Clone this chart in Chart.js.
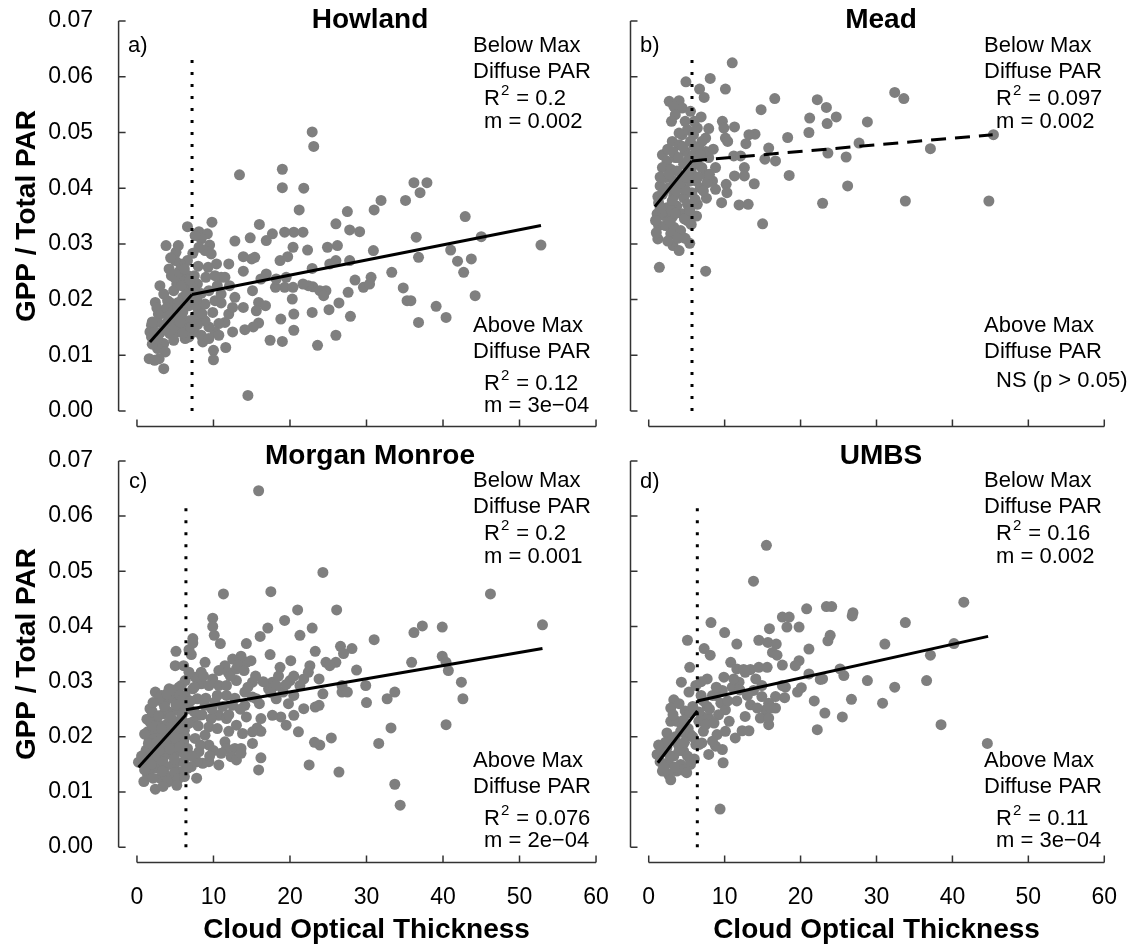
<!DOCTYPE html>
<html>
<head>
<meta charset="utf-8">
<script src="https://cdn.jsdelivr.net/npm/chart.js@4.4.1/dist/chart.umd.min.js"></script>
<style>
  html, body { margin: 0; padding: 0; background: #fff; }
  #fig { position: relative; width: 1128px; height: 949px; }
  #fig canvas { position: absolute; }
</style>
</head>
<body>
<div id="fig">
  <canvas id="pa" width="625" height="440" style="left:0;top:0"></canvas>
  <canvas id="pb" width="503" height="440" style="left:625px;top:0"></canvas>
  <canvas id="pc" width="625" height="509" style="left:0;top:440px"></canvas>
  <canvas id="pd" width="503" height="509" style="left:625px;top:440px"></canvas>
</div>
<script>
// axis ticks / limits (R style 4% extension)
const cotTicks = [0, 10, 20, 30, 40, 50, 60];
const gppTicks = [0, 0.01, 0.02, 0.03, 0.04, 0.05, 0.06, 0.07];
const xLim = [-2.4, 62.4];
const yLim = [-0.0028, 0.0728];
const breakTop = 0.063;

// Howland: [cloud optical thickness, GPP/total PAR]
const howlandPts = [
  [22.9,0.0501],[23.1,0.0475],[13.4,0.0424],[19.0,0.0434],[19.0,0.0401],[21.8,0.0400],[21.2,0.0361],[36.2,0.0410],
  [37.9,0.0410],[37.0,0.0392],[35.1,0.0378],[31.9,0.0378],[31.0,0.0361],[27.5,0.0358],[26.0,0.0336],[16.0,0.0335],
  [9.8,0.0339],[6.6,0.0331],[8.1,0.0322],[42.9,0.0349],[45.0,0.0313],[36.5,0.0312],[52.8,0.0298],[41.0,0.0289],
  [41.9,0.0269],[43.7,0.0273],[42.7,0.0249],[44.2,0.0207],[36.8,0.0276],[33.3,0.0249],[30.9,0.0288],[29.1,0.0322],
  [27.8,0.0325],[26.2,0.0297],[24.9,0.0294],[26.0,0.0270],[25.2,0.0264],[27.8,0.0270],[28.5,0.0235],[27.6,0.0213],
  [30.6,0.0240],[29.6,0.0222],[30.4,0.0228],[34.8,0.0221],[35.3,0.0198],[35.8,0.0198],[36.8,0.0159],[39.1,0.0188],
  [40.4,0.0168],[27.9,0.0170],[26.4,0.0194],[25.1,0.0182],[26.0,0.0136],[23.6,0.0118],[22.9,0.0177],[22.9,0.0256],
  [23.0,0.0223],[22.4,0.0225],[23.9,0.0216],[24.7,0.0216],[24.4,0.0207],[21.7,0.0228],[22.3,0.0289],[21.7,0.0321],
  [20.5,0.0321],[20.4,0.0294],[19.7,0.0277],[19.3,0.0321],[17.7,0.0318],[16.9,0.0306],[19.3,0.0222],[20.4,0.0222],
  [20.3,0.0201],[20.5,0.0174],[20.5,0.0145],[18.8,0.0165],[19.0,0.0125],[17.4,0.0127],[18.1,0.0222],[16.9,0.0246],
  [16.2,0.0237],[15.4,0.0276],[15.0,0.0273],[13.9,0.0277],[14.8,0.0311],[12.8,0.0305],[12.0,0.0264],[13.9,0.0251],
  [15.1,0.0216],[15.9,0.0195],[16.8,0.0189],[15.6,0.0180],[15.9,0.0158],[15.2,0.0151],[14.1,0.0146],[12.5,0.0142],
  [11.6,0.0114],[10.0,0.0109],[10.0,0.0092],[14.5,0.0028],[8.6,0.0124],[13.9,0.0186],[12.8,0.0204],[12.1,0.0225],
  [11.0,0.0240],[10.2,0.0243],[10.4,0.0264],[9.5,0.0298],[8.9,0.0288],[9.3,0.0258],[12.0,0.0174],[11.5,0.0159],
  [10.7,0.0157],[10.2,0.0142],[9.4,0.0151],[8.9,0.0162],[8.1,0.0162],[7.5,0.0142],[8.4,0.0136],[9.4,0.0130],
  [10.7,0.0136],[7.9,0.0186],[8.9,0.0192],[10.2,0.0198],[11.0,0.0210],[7.9,0.0228],[7.5,0.0243],[7.3,0.0283],
  [6.6,0.0270],[5.1,0.0285],[5.4,0.0297],[3.8,0.0297],[4.5,0.0243],[5.7,0.0264],[5.2,0.0228],[4.8,0.0216],
  [6.3,0.0222],[6.0,0.0204],[5.4,0.0195],[4.3,0.0195],[4.0,0.0198],[2.4,0.0195],[2.8,0.0174],[2.7,0.0159],
  [3.8,0.0157],[4.8,0.0162],[5.8,0.0171],[6.8,0.0162],[6.3,0.0148],[5.3,0.0142],[4.3,0.0139],[6.3,0.0130],
  [4.8,0.0127],[3.5,0.0121],[2.7,0.0112],[3.7,0.0106],[2.9,0.0094],[1.6,0.0094],[2.3,0.0091],[3.5,0.0076],
  [1.7,0.0142],[1.9,0.0133],[1.9,0.0154],[2.3,0.0142],[6.8,0.0133],[6.8,0.0189],[7.2,0.0207],[7.4,0.0219],
  [6.7,0.0243],[5.8,0.0240],[5.0,0.0270],[9.2,0.0318],[8.4,0.0309],[8.1,0.0294],[9.7,0.0282],[11.5,0.0240],
  [11.0,0.0194],[8.4,0.0211],[9.4,0.0216],[9.9,0.0177],[12.5,0.0186],[18.7,0.0270],[18.2,0.0237],[19.5,0.0240],
  [2.0,0.0160],[2.6,0.0185],[3.2,0.0175],[3.9,0.0185],[4.6,0.0178],[5.3,0.0185],[6.0,0.0178],[6.6,0.0195],
  [3.0,0.0140],[3.6,0.0148],[4.1,0.0170],[5.0,0.0150],[5.6,0.0160],[6.0,0.0140],[7.0,0.0150],[7.6,0.0170],
  [7.8,0.0200],[6.5,0.0210],[5.8,0.0225],[4.9,0.0240],[4.2,0.0255],[5.5,0.0250],[6.2,0.0255],[6.9,0.0235],
  [4.4,0.0275],[3.5,0.0210],[3.0,0.0225],[2.0,0.0120],[2.7,0.0130],[7.9,0.0155],[8.5,0.0175],[8.0,0.0260],
  [7.6,0.0315],[10.5,0.0225],[9.0,0.0240]
];
const howlandBelowX = [1.7, 7.2], howlandBelowY = [0.0124, 0.0209];
const howlandAboveX = [7.2, 52.8], howlandAboveY = [0.0209, 0.0333];
const howlandBreak = 7.2;

const meadPts = [
  [11.0,0.0625],[8.1,0.0597],[4.9,0.0591],[6.7,0.0578],[7.3,0.0563],[10.1,0.0578],[2.7,0.0556],[4.0,0.0557],
  [3.3,0.0547],[4.4,0.0544],[3.5,0.0532],[5.5,0.0538],[6.9,0.0528],[16.6,0.0561],[14.8,0.0541],[22.2,0.0559],
  [23.4,0.0545],[32.4,0.0572],[33.6,0.0561],[21.2,0.0526],[23.5,0.0516],[24.7,0.0528],[28.8,0.0519],[21.1,0.0500],
  [18.3,0.0491],[14.0,0.0497],[13.2,0.0496],[12.8,0.0480],[9.7,0.0520],[9.9,0.0508],[11.3,0.0510],[7.9,0.0507],
  [7.5,0.0490],[10.1,0.0490],[10.4,0.0484],[15.8,0.0472],[23.6,0.0463],[26.0,0.0456],[27.7,0.0481],[37.1,0.0471],
  [45.4,0.0496],[15.3,0.0452],[16.7,0.0449],[11.2,0.0458],[12.1,0.0458],[11.3,0.0422],[12.6,0.0437],[12.6,0.0422],
  [13.9,0.0408],[18.5,0.0423],[26.2,0.0404],[22.9,0.0373],[33.8,0.0377],[44.8,0.0377],[11.9,0.0370],[13.1,0.0371],
  [9.6,0.0374],[15.0,0.0336],[7.5,0.0251],[1.4,0.0258],[1.2,0.0309],[3.2,0.0297],[4.0,0.0288],[4.0,0.0320],
  [5.4,0.0301],[5.1,0.0342],[1.3,0.0333],[1.1,0.0354],[7.5,0.0425],[8.8,0.0437],[8.4,0.0413],[10.2,0.0407],
  [10.3,0.0392],[8.8,0.0398],[7.6,0.0382],[6.4,0.0371],[7.9,0.0455],[7.5,0.0466],[6.6,0.0472],[6.4,0.0443],
  [1.8,0.0460],[2.4,0.0449],[1.8,0.0437],[2.9,0.0434],[2.2,0.0419],[3.3,0.0413],[2.6,0.0401],[4.0,0.0401],
  [1.8,0.0389],[3.3,0.0386],[4.6,0.0383],[1.3,0.0374],[2.4,0.0365],[3.7,0.0368],[5.1,0.0371],[2.0,0.0351],
  [3.1,0.0348],[4.4,0.0354],[0.9,0.0342],[2.2,0.0333],[3.3,0.0330],[5.3,0.0359],[3.1,0.0484],[4.4,0.0496],
  [5.1,0.0505],[4.0,0.0478],[4.8,0.0466],[5.5,0.0484],[5.9,0.0496],[3.5,0.0455],[4.6,0.0443],[5.3,0.0431],
  [3.7,0.0431],[4.4,0.0419],[5.5,0.0413],[4.8,0.0398],[5.7,0.0392],[6.2,0.0413],[7.0,0.0437],[6.8,0.0401],
  [5.9,0.0460],[6.4,0.0508],[7.0,0.0484],[3.1,0.0377],[1.5,0.0404],[4.0,0.0499],[1.8,0.0357],[4.2,0.0324],
  [2.9,0.0318],[1.5,0.0365],[7.7,0.0410],[8.0,0.0425],
  [1.5,0.0420],[2.0,0.0395],[2.7,0.0425],[3.0,0.0360],[3.6,0.0395],[4.2,0.0410],[4.9,0.0420],[5.6,0.0430],
  [6.1,0.0445],[2.5,0.0470],[3.2,0.0465],[3.9,0.0455],[4.5,0.0475],[5.2,0.0450],[6.0,0.0475],[1.2,0.0385],
  [2.8,0.0340],[3.5,0.0355],[4.7,0.0345],[5.6,0.0335],[6.1,0.0380],[1.0,0.0320],[2.5,0.0305],[3.8,0.0310],
  [4.8,0.0310],[6.3,0.0350],[6.0,0.0520],[4.8,0.0520],[3.0,0.0520],[5.4,0.0360],[6.8,0.0460],[7.2,0.0395],
  [6.5,0.0420],[8.5,0.0470]
];
const meadBelowX = [0.8, 5.7], meadBelowY = [0.0367, 0.0449];
const meadAboveX = [5.7, 45.3], meadAboveY = [0.0449, 0.0496];
const meadBreak = 5.7;

const morganPts = [
  [15.9,0.0646],[24.3,0.0498],[11.3,0.0459],[17.5,0.0463],[46.2,0.0459],[21.0,0.0430],[26.1,0.0430],[19.3,0.0411],
  [53.0,0.0403],[37.3,0.0401],[36.2,0.0389],[39.9,0.0399],[22.9,0.0397],[17.1,0.0397],[31.0,0.0376],[21.3,0.0384],
  [16.1,0.0382],[14.3,0.0369],[10.9,0.0369],[9.9,0.0415],[9.9,0.0400],[10.1,0.0384],[7.3,0.0378],[7.1,0.0349],
  [5.1,0.0355],[26.6,0.0364],[28.1,0.0360],[27.0,0.0351],[23.3,0.0355],[17.4,0.0349],[35.9,0.0335],[39.9,0.0346],
  [40.4,0.0335],[40.7,0.0320],[28.7,0.0321],[26.0,0.0335],[24.7,0.0335],[22.6,0.0329],[20.1,0.0338],[18.7,0.0326],
  [42.4,0.0299],[42.6,0.0269],[29.9,0.0293],[30.0,0.0262],[33.7,0.0281],[32.7,0.0269],[33.2,0.0216],[31.6,0.0188],
  [40.4,0.0222],[33.7,0.0114],[34.4,0.0076],[26.4,0.0136],[22.5,0.0149],[25.4,0.0198],[23.9,0.0185],[23.2,0.0190],
  [21.1,0.0209],[21.8,0.0251],[23.3,0.0254],[23.8,0.0257],[24.3,0.0278],[26.8,0.0281],[27.5,0.0281],[26.8,0.0293],
  [23.8,0.0305],[21.8,0.0305],[21.3,0.0293],[20.5,0.0275],[19.1,0.0281],[18.2,0.0269],[17.7,0.0299],[19.8,0.0260],
  [18.8,0.0236],[19.5,0.0221],[16.2,0.0233],[15.7,0.0216],[16.2,0.0210],[15.1,0.0209],[15.1,0.0188],[16.2,0.0162],
  [15.9,0.0140],[14.3,0.0236],[14.1,0.0257],[15.1,0.0299],[14.3,0.0335],[14.9,0.0338],[13.6,0.0346],[12.5,0.0341],
  [11.5,0.0329],[10.7,0.0320],[11.9,0.0317],[13.0,0.0323],[8.9,0.0335],[9.9,0.0305],[10.7,0.0293],[11.7,0.0293],
  [13.0,0.0302],[11.7,0.0275],[12.5,0.0257],[10.2,0.0263],[10.7,0.0239],[11.7,0.0233],[13.0,0.0221],[9.7,0.0233],
  [9.4,0.0218],[10.5,0.0215],[8.9,0.0203],[7.6,0.0197],[9.4,0.0185],[11.5,0.0191],[11.7,0.0179],[12.8,0.0179],
  [13.6,0.0179],[12.3,0.0164],[13.0,0.0158],[13.6,0.0170],[10.7,0.0149],[9.4,0.0155],[8.6,0.0152],[7.9,0.0155],
  [7.1,0.0146],[7.8,0.0125],[8.1,0.0173],[7.3,0.0227],[8.1,0.0239],[8.9,0.0257],[7.9,0.0269],[7.3,0.0287],
  [8.4,0.0296],[7.6,0.0308],[6.8,0.0317],[5.8,0.0293],[6.3,0.0275],[5.0,0.0329],[6.1,0.0329],[0.2,0.0154],
  [0.9,0.0119],[2.4,0.0105],[4.5,0.0122],[1.9,0.0248],[3.0,0.0266],[3.7,0.0263],[4.8,0.0269],[5.5,0.0266],
  [1.7,0.0227],[2.4,0.0233],[3.5,0.0242],[4.2,0.0245],[5.3,0.0248],[6.1,0.0251],[1.4,0.0209],[2.2,0.0212],
  [3.0,0.0221],[4.0,0.0224],[5.0,0.0227],[5.8,0.0233],[1.6,0.0194],[2.4,0.0197],[3.3,0.0203],[4.2,0.0206],
  [5.3,0.0209],[6.2,0.0212],[1.2,0.0176],[2.2,0.0179],[3.1,0.0182],[4.1,0.0185],[5.2,0.0188],[6.1,0.0191],
  [0.9,0.0158],[1.8,0.0161],[2.7,0.0164],[3.7,0.0167],[4.8,0.0170],[5.8,0.0173],[1.7,0.0140],[2.7,0.0143],
  [3.7,0.0146],[5.0,0.0152],[6.1,0.0155],[3.0,0.0125],[3.7,0.0131],[5.8,0.0137],[6.6,0.0143],[2.4,0.0281],
  [4.2,0.0287],[3.2,0.0275],[6.3,0.0302],[5.5,0.0290],[1.7,0.0251],[2.4,0.0149],[4.7,0.0149],[6.6,0.0179],
  [6.7,0.0224],[6.8,0.0251],[6.8,0.0358],[7.3,0.0370],[8.4,0.0317],[9.4,0.0293],[14.1,0.0281],[15.6,0.0269],
  [17.2,0.0287],[18.2,0.0293],[20.0,0.0302],[22.4,0.0317],[25.2,0.0329],[17.7,0.0239],[20.5,0.0239],[13.8,0.0206],
  [15.1,0.0272],
  [1.0,0.0205],[1.5,0.0188],[2.0,0.0220],[2.6,0.0190],[3.2,0.0215],[3.8,0.0196],[4.5,0.0219],[5.0,0.0198],
  [5.7,0.0220],[6.3,0.0200],[1.3,0.0232],[2.0,0.0245],[2.8,0.0238],[3.6,0.0255],[4.4,0.0236],[5.1,0.0258],
  [5.9,0.0240],[6.5,0.0262],[1.1,0.0170],[1.9,0.0150],[2.9,0.0175],[3.4,0.0155],[4.3,0.0178],[4.9,0.0160],
  [5.6,0.0182],[6.4,0.0165],[1.4,0.0130],[2.1,0.0125],[3.3,0.0138],[4.0,0.0118],[4.9,0.0135],[5.4,0.0124],
  [6.2,0.0128],[2.9,0.0270],[3.9,0.0278],[4.7,0.0285],[5.6,0.0276],[6.0,0.0268],[2.1,0.0262],[1.0,0.0140],
  [0.6,0.0165],[3.4,0.0110],[5.2,0.0112],[7.0,0.0265],[7.5,0.0245],[8.0,0.0220],[8.5,0.0240],[9.0,0.0270],
  [9.8,0.0250],[10.5,0.0275],[11.2,0.0255],[12.0,0.0240],[12.8,0.0270],[13.5,0.0250],[14.5,0.0290],[15.5,0.0310],
  [16.5,0.0300],[17.5,0.0280],[18.5,0.0310],[19.5,0.0295],[20.5,0.0310],[16.0,0.0260],[12.0,0.0210],[10.0,0.0175],
  [8.3,0.0185],[9.5,0.0165],[11.0,0.0170],[7.2,0.0165],[7.5,0.0290],[8.7,0.0310],[12.2,0.0310],[13.2,0.0330],
  [14.0,0.0320]
];
const morganBelowX = [0.2, 6.4], morganBelowY = [0.0145, 0.0240];
const morganAboveX = [6.4, 53.0], morganAboveY = [0.0249, 0.0360];
const morganBreak = 6.4;

const umbsPts = [
  [15.5,0.0547],[13.8,0.0482],[41.5,0.0444],[20.8,0.0432],[23.4,0.0436],[24.1,0.0436],[26.9,0.0425],[26.8,0.0419],
  [17.6,0.0417],[18.5,0.0417],[18.2,0.0399],[19.8,0.0399],[15.9,0.0396],[8.2,0.0407],[10.0,0.0389],[33.8,0.0407],
  [23.9,0.0384],[23.6,0.0374],[5.1,0.0375],[14.5,0.0375],[15.7,0.0371],[16.8,0.0368],[11.6,0.0368],[31.1,0.0368],
  [40.2,0.0369],[21.1,0.0359],[7.3,0.0360],[8.1,0.0348],[16.3,0.0353],[16.9,0.0348],[37.1,0.0348],[19.8,0.0338],
  [10.8,0.0335],[17.6,0.0330],[5.4,0.0326],[11.6,0.0323],[12.5,0.0322],[13.4,0.0322],[14.5,0.0326],[15.6,0.0326],
  [25.2,0.0323],[25.7,0.0311],[21.1,0.0314],[22.6,0.0304],[28.8,0.0302],[36.6,0.0302],[32.4,0.0290],[30.8,0.0261],
  [26.7,0.0268],[21.8,0.0265],[23.2,0.0243],[25.5,0.0236],[22.2,0.0213],[38.5,0.0222],[44.6,0.0188],[9.4,0.0069],
  [19.6,0.0281],[20.1,0.0289],[18.0,0.0290],[17.9,0.0271],[16.7,0.0273],[15.8,0.0261],[16.7,0.0252],[15.4,0.0249],
  [14.7,0.0234],[15.8,0.0222],[15.8,0.0234],[14.9,0.0273],[14.9,0.0293],[13.8,0.0284],[13.4,0.0258],[12.7,0.0237],
  [13.2,0.0211],[12.3,0.0211],[11.4,0.0198],[11.6,0.0265],[11.0,0.0290],[11.9,0.0299],[9.9,0.0308],[9.7,0.0284],
  [8.8,0.0275],[9.5,0.0261],[10.1,0.0249],[9.2,0.0240],[10.6,0.0228],[10.1,0.0210],[9.0,0.0204],[7.9,0.0234],
  [7.0,0.0237],[7.7,0.0255],[7.7,0.0305],[6.9,0.0275],[8.4,0.0275],[7.0,0.0189],[7.9,0.0168],[8.8,0.0183],
  [9.7,0.0177],[9.8,0.0153],[6.6,0.0228],[6.2,0.0293],[4.3,0.0299],[4.8,0.0247],[5.4,0.0243],[3.3,0.0267],
  [2.9,0.0252],[2.9,0.0228],[3.7,0.0228],[2.4,0.0207],[4.4,0.0222],[4.9,0.0204],[5.5,0.0204],[6.2,0.0186],
  [3.1,0.0195],[3.9,0.0186],[4.6,0.0174],[2.4,0.0180],[2.0,0.0174],[1.1,0.0168],[3.3,0.0165],[5.1,0.0165],
  [4.2,0.0150],[5.5,0.0150],[2.6,0.0153],[3.7,0.0138],[1.8,0.0138],[2.6,0.0132],[2.9,0.0122],[4.4,0.0140],
  [5.5,0.0156],[6.6,0.0186],[7.2,0.0210],[8.4,0.0192],[12.7,0.0317],[11.2,0.0305],[14.1,0.0305],[14.3,0.0252],
  [16.1,0.0252],[17.6,0.0293],[19.3,0.0329],[22.9,0.0305],[7.5,0.0222],[4.2,0.0210],[5.3,0.0281],
  [1.5,0.0155],[2.2,0.0190],[2.8,0.0165],[3.5,0.0200],[4.0,0.0175],[4.7,0.0190],[5.2,0.0215],[5.8,0.0200],
  [3.2,0.0240],[4.0,0.0260],[4.6,0.0230],[5.8,0.0255],[6.6,0.0245],[7.2,0.0265],[8.0,0.0250],[8.6,0.0225],
  [6.9,0.0300],[8.9,0.0290],[10.4,0.0265],[12.0,0.0285],[13.0,0.0275],[2.0,0.0145],[3.4,0.0145],[5.0,0.0135],
  [6.0,0.0160],[1.3,0.0185]
];
const umbsBelowX = [1.2, 6.4], umbsBelowY = [0.0153, 0.0247];
const umbsAboveX = [6.4, 44.7], umbsAboveY = [0.0265, 0.0382];
const umbsBreak = 6.4;

const FONT = '"Liberation Sans", Arial, Helvetica, sans-serif';
const pointGray = '#7f7f7f';

function toXY(pairs) {
  return pairs.map(p => ({x: p[0], y: p[1]}));
}
function seg(xs, ys) {
  return xs.map((x, i) => ({x: x, y: ys[i]}));
}

// R-like axes: line only between first and last tick, ticks pointing inward
const rAxes = {
  id: 'rAxes',
  afterDraw(chart) {
    const ctx = chart.ctx, a = chart.chartArea;
    const xs = chart.scales.x, ys = chart.scales.y;
    const xp = xs.ticks.map(t => xs.getPixelForValue(t.value));
    const yp = ys.ticks.map(t => ys.getPixelForValue(t.value));
    ctx.save();
    ctx.strokeStyle = '#333';
    ctx.lineWidth = 1.5;
    ctx.beginPath();
    ctx.moveTo(xp[0], a.bottom);
    ctx.lineTo(xp[xp.length - 1], a.bottom);
    xp.forEach(p => { ctx.moveTo(p, a.bottom); ctx.lineTo(p, a.bottom - 7); });
    ctx.moveTo(a.left, yp[0]);
    ctx.lineTo(a.left, yp[yp.length - 1]);
    yp.forEach(p => { ctx.moveTo(a.left, p); ctx.lineTo(a.left + 7, p); });
    ctx.stroke();
    ctx.restore();
  }
};

function textPlugin(t) {
  return {
    id: 'panelText',
    afterDraw(chart) {
      const ctx = chart.ctx;
      ctx.save();
      ctx.fillStyle = '#000';
      ctx.textBaseline = 'alphabetic';
      ctx.textAlign = 'center';
      ctx.font = 'bold 28px ' + FONT;
      ctx.fillText(t.title, t.titleX, t.titleY);
      ctx.textAlign = 'left';
      ctx.font = '22px ' + FONT;
      ctx.fillText(t.tag, t.tagX, t.tagY);
      t.lines.forEach(l => {
        ctx.font = '22px ' + FONT;
        let x = l.x;
        ctx.fillText(l.s, x, l.y);
        if (l.sup) {
          x += ctx.measureText(l.s).width + 1;
          ctx.font = '15px ' + FONT;
          ctx.fillText(l.sup, x, l.y - 10);
          x += ctx.measureText(l.sup).width + 1;
          ctx.font = '22px ' + FONT;
          ctx.fillText(l.rest, x, l.y);
        }
      });
      ctx.restore();
    }
  };
}

function zeroPad(s) {
  s.paddingLeft = 0; s.paddingRight = 0; s.paddingTop = 0; s.paddingBottom = 0;
}

function makePanel(id, o) {
  const datasets = [
    {data: toXY(o.points), showLine: false, pointRadius: 5.5, pointBackgroundColor: pointGray,
     pointBorderColor: pointGray, pointBorderWidth: 0, order: 3},
    {data: seg(o.belowX, o.belowY), showLine: true, borderColor: '#000', borderWidth: 3,
     pointRadius: 0, order: 2},
    {data: seg(o.aboveX, o.aboveY), showLine: true, borderColor: '#000', borderWidth: 3,
     borderDash: o.aboveDash || [], pointRadius: 0, order: 1},
    {data: [{x: o.brk, y: 0}, {x: o.brk, y: breakTop}], showLine: true, borderColor: '#000',
     borderWidth: 3, borderDash: [3, 9], pointRadius: 0, order: 0}
  ];
  return new Chart(document.getElementById(id), {
    type: 'scatter',
    data: {datasets: datasets},
    options: {
      responsive: false,
      animation: false,
      events: [],
      layout: {padding: {left: 0, top: o.top, right: o.right, bottom: 0}},
      plugins: {legend: {display: false}, tooltip: {enabled: false}},
      scales: {
        x: {
          type: 'linear', min: xLim[0], max: xLim[1],
          afterBuildTicks: s => { s.ticks = cotTicks.map(v => ({value: v})); },
          grid: {display: false, drawTicks: false},
          border: {display: false},
          ticks: {display: o.xLabels, padding: 21.4, color: '#000', autoSkip: false, maxRotation: 0,
                  font: {family: FONT, size: 23}, callback: v => String(v)},
          title: {display: o.xLabels, text: 'Cloud Optical Thickness', color: '#000',
                  font: {family: FONT, size: 28, weight: 'bold'}, padding: {top: 0, bottom: 2}},
          afterFit: s => { s.height = o.xh; zeroPad(s); }
        },
        y: {
          type: 'linear', min: yLim[0], max: yLim[1],
          afterBuildTicks: s => { s.ticks = gppTicks.map(v => ({value: v})); },
          grid: {display: false, drawTicks: false},
          border: {display: false},
          ticks: {display: o.yLabels, padding: 25.6, color: '#000', autoSkip: false,
                  font: {family: FONT, size: 23}, callback: v => v.toFixed(2)},
          title: {display: o.yLabels, text: 'GPP / Total PAR', color: '#000',
                  font: {family: FONT, size: 28, weight: 'bold'}, padding: {top: 10, bottom: 0}},
          afterFit: s => { s.width = o.yw; zeroPad(s); }
        }
      }
    },
    plugins: [rAxes, textPlugin(o.text)]
  });
}

makePanel('pa', {
  points: howlandPts, belowX: howlandBelowX, belowY: howlandBelowY,
  aboveX: howlandAboveX, aboveY: howlandAboveY, brk: howlandBreak,
  top: 5.4, right: 10.6, xh: 13.4, yw: 118.6, xLabels: false, yLabels: true,
  text: {title: 'Howland', titleX: 370, titleY: 28, tag: 'a)', tagX: 128, tagY: 52, lines: [
    {s: 'Below Max', x: 473, y: 52}, {s: 'Diffuse PAR', x: 473, y: 78},
    {s: 'R', sup: '2', rest: ' = 0.2', x: 484, y: 105}, {s: 'm = 0.002', x: 484, y: 128},
    {s: 'Above Max', x: 473, y: 332}, {s: 'Diffuse PAR', x: 473, y: 358},
    {s: 'R', sup: '2', rest: ' = 0.12', x: 484, y: 390}, {s: 'm = 3e\u221204', x: 484, y: 412}
  ]}
});

makePanel('pb', {
  points: meadPts, belowX: meadBelowX, belowY: meadBelowY,
  aboveX: meadAboveX, aboveY: meadAboveY, aboveDash: [15, 9], brk: meadBreak,
  top: 5.4, right: 2.3, xh: 13.4, yw: 5, xLabels: false, yLabels: false,
  text: {title: 'Mead', titleX: 256, titleY: 28, tag: 'b)', tagX: 15, tagY: 52, lines: [
    {s: 'Below Max', x: 359, y: 52}, {s: 'Diffuse PAR', x: 359, y: 78},
    {s: 'R', sup: '2', rest: ' = 0.097', x: 371, y: 105}, {s: 'm = 0.002', x: 371, y: 128},
    {s: 'Above Max', x: 359, y: 332}, {s: 'Diffuse PAR', x: 359, y: 358},
    {s: 'NS (p > 0.05)', x: 371, y: 387}
  ]}
});

makePanel('pc', {
  points: morganPts, belowX: morganBelowX, belowY: morganBelowY,
  aboveX: morganAboveX, aboveY: morganAboveY, brk: morganBreak,
  top: 0.4, right: 10.6, xh: 86.4, yw: 118.6, xLabels: true, yLabels: true,
  text: {title: 'Morgan Monroe', titleX: 370, titleY: 24, tag: 'c)', tagX: 129, tagY: 48, lines: [
    {s: 'Below Max', x: 473, y: 47}, {s: 'Diffuse PAR', x: 473, y: 73},
    {s: 'R', sup: '2', rest: ' = 0.2', x: 484, y: 100}, {s: 'm = 0.001', x: 484, y: 123},
    {s: 'Above Max', x: 473, y: 327}, {s: 'Diffuse PAR', x: 473, y: 353},
    {s: 'R', sup: '2', rest: ' = 0.076', x: 484, y: 385}, {s: 'm = 2e\u221204', x: 484, y: 407}
  ]}
});

makePanel('pd', {
  points: umbsPts, belowX: umbsBelowX, belowY: umbsBelowY,
  aboveX: umbsAboveX, aboveY: umbsAboveY, brk: umbsBreak,
  top: 0.4, right: 2.3, xh: 86.4, yw: 5, xLabels: true, yLabels: false,
  text: {title: 'UMBS', titleX: 256, titleY: 24, tag: 'd)', tagX: 15, tagY: 48, lines: [
    {s: 'Below Max', x: 359, y: 47}, {s: 'Diffuse PAR', x: 359, y: 73},
    {s: 'R', sup: '2', rest: ' = 0.16', x: 371, y: 100}, {s: 'm = 0.002', x: 371, y: 123},
    {s: 'Above Max', x: 359, y: 327}, {s: 'Diffuse PAR', x: 359, y: 353},
    {s: 'R', sup: '2', rest: ' = 0.11', x: 371, y: 385}, {s: 'm = 3e\u221204', x: 371, y: 407}
  ]}
});
</script>
</body>
</html>
